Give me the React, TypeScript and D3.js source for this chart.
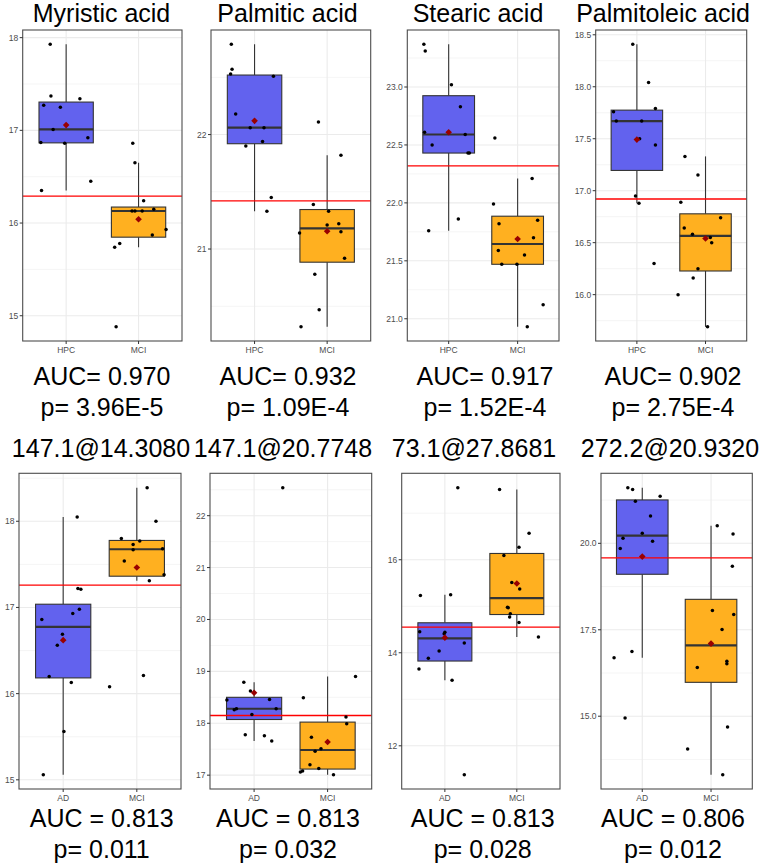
import React from 'react';
import * as d3 from 'd3';

// ---- data: each point is [horizontal jitter (category units), value] ----
const myristicHPC: [number, number][] = [[-0.22,17.93],[-0.21,17.37],[-0.31,17.27],[-0.08,17.25],[0.19,17.34],[-0.18,17.01],[0.30,16.92],[-0.35,16.87],[-0.02,16.86],[0.34,16.45],[-0.34,16.35]];
const myristicMCI: [number, number][] = [[-0.08,16.86],[-0.05,16.65],[0.07,16.24],[-0.09,16.13],[-0.05,16.13],[0.05,16.13],[0.21,16.15],[0.19,15.87],[0.38,15.93],[-0.33,15.74],[-0.26,15.78],[-0.31,14.88]];
const palmiticHPC: [number, number][] = [[-0.32,22.79],[-0.31,22.57],[-0.33,22.53],[0.26,22.51],[-0.26,22.18],[-0.06,22.06],[0.13,22.06],[0.11,21.94],[-0.12,21.90],[0.23,21.45],[0.17,21.33]];
const palmiticMCI: [number, number][] = [[-0.12,22.11],[0.19,21.82],[-0.19,21.39],[0.02,21.33],[0.00,21.21],[0.16,21.22],[0.19,21.15],[-0.38,21.14],[0.24,20.92],[-0.17,20.78],[-0.11,20.47],[-0.36,20.32]];
const stearicHPC: [number, number][] = [[-0.36,23.37],[-0.34,23.31],[0.04,23.02],[0.17,22.83],[-0.35,22.61],[0.24,22.59],[-0.24,22.50],[0.28,22.43],[0.30,22.43],[0.14,21.86],[-0.29,21.76]];
const stearicMCI: [number, number][] = [[-0.33,22.56],[0.21,22.21],[-0.35,21.99],[0.29,21.85],[-0.27,21.82],[0.23,21.70],[-0.28,21.59],[0.10,21.55],[-0.23,21.47],[-0.01,21.47],[0.37,21.12],[0.14,20.93]];
const palmitoleicHPC: [number, number][] = [[-0.06,18.41],[0.17,18.04],[0.27,17.79],[-0.34,17.76],[-0.30,17.67],[0.07,17.67],[0.04,17.50],[0.27,17.44],[-0.02,16.95],[0.03,16.88],[0.25,16.30]];
const palmitoleicMCI: [number, number][] = [[-0.30,17.33],[-0.11,17.15],[-0.36,16.89],[0.22,16.74],[-0.31,16.64],[-0.19,16.58],[0.07,16.55],[0.09,16.50],[-0.11,16.25],[-0.18,16.16],[-0.40,16.00],[0.03,15.69]];
const m147a_AD: [number, number][] = [[0.19,18.05],[0.20,17.22],[0.24,17.21],[0.22,16.98],[0.13,16.93],[-0.29,16.86],[-0.01,16.69],[-0.08,16.56],[-0.19,16.20],[0.11,16.13],[0.01,15.56],[-0.27,15.06]];
const m147a_MCI: [number, number][] = [[0.14,18.39],[0.26,18.00],[-0.21,17.80],[0.04,17.77],[-0.05,17.73],[-0.05,17.67],[0.35,17.68],[-0.17,17.54],[0.37,17.38],[0.17,17.31],[0.09,16.21],[-0.37,16.08]];
const m147b_AD: [number, number][] = [[0.39,22.54],[-0.14,18.79],[-0.05,18.62],[-0.37,18.45],[0.21,18.46],[-0.24,18.28],[-0.27,18.26],[0.30,18.28],[-0.03,18.17],[-0.12,17.78],[0.14,17.76],[0.24,17.66]];
const m147b_MCI: [number, number][] = [[-0.33,18.49],[0.38,18.90],[0.25,18.12],[0.26,17.99],[-0.22,17.73],[-0.09,17.51],[-0.17,17.46],[-0.24,17.20],[-0.12,17.13],[-0.37,17.06],[0.08,17.01],[-0.34,17.08]];
const m73_AD: [number, number][] = [[0.18,17.55],[-0.34,15.23],[0.08,15.25],[-0.35,14.45],[0.00,14.44],[-0.01,14.41],[0.27,14.21],[-0.08,14.04],[-0.23,13.88],[-0.36,13.65],[0.10,13.41],[0.27,11.38]];
const m73_MCI: [number, number][] = [[-0.24,17.51],[0.17,16.57],[0.03,16.27],[-0.18,16.09],[-0.07,15.51],[0.04,15.37],[-0.13,14.98],[-0.12,14.97],[-0.09,14.84],[-0.10,14.77],[0.03,14.65],[0.30,14.34]];
const m272_AD: [number, number][] = [[-0.21,21.61],[-0.14,21.56],[0.26,21.36],[-0.10,21.22],[0.12,20.79],[0.00,20.29],[-0.28,20.15],[0.15,20.06],[-0.32,19.85],[-0.41,16.69],[-0.15,16.87],[-0.25,14.95]];
const m272_MCI: [number, number][] = [[0.09,20.51],[0.32,20.27],[0.31,19.34],[0.02,18.06],[0.33,17.94],[0.16,17.51],[-0.20,16.41],[0.23,16.59],[0.23,16.52],[0.24,14.69],[-0.34,14.05],[0.17,13.31]];

const titles = ['Myristic acid', 'Palmitic acid', 'Stearic acid', 'Palmitoleic acid', '147.1@14.3080', '147.1@20.7748', '73.1@27.8681', '272.2@20.9320'];
const aucLabels = ['AUC= 0.970', 'AUC= 0.932', 'AUC= 0.917', 'AUC= 0.902', 'AUC = 0.813', 'AUC = 0.813', 'AUC = 0.813', 'AUC = 0.806'];
const pLabels = ['p= 3.96E-5', 'p= 1.09E-4', 'p= 1.52E-4', 'p= 2.75E-4', 'p= 0.011', 'p= 0.032', 'p= 0.028', 'p= 0.012'];
const groupsTop = ['HPC', 'MCI'];
const groupsBottom = ['AD', 'MCI'];
const cutoffs = [16.29, 21.42, 22.32, 16.92, 17.26, 18.15, 14.55, 19.58];
const majorTicks = [[15, 16, 17, 18], [21, 22], [21, 21.5, 22, 22.5, 23], [16, 16.5, 17, 17.5, 18, 18.5], [15, 16, 17, 18], [17, 18, 19, 20, 21, 22], [12, 14, 16], [15, 17.5, 20]];
const tickDecimals = [0, 0, 1, 1, 0, 0, 0, 1];
const panelSeries = [
  [myristicHPC, myristicMCI], [palmiticHPC, palmiticMCI], [stearicHPC, stearicMCI], [palmitoleicHPC, palmitoleicMCI],
  [m147a_AD, m147a_MCI], [m147b_AD, m147b_MCI], [m73_AD, m73_MCI], [m272_AD, m272_MCI],
];

// ---- layout (not data) ----
const rects = [
  { x0: 22.7, x1: 182, y0: 30, y1: 341 },
  { x0: 211, x1: 370.7, y0: 30, y1: 341 },
  { x0: 407.3, x1: 559, y0: 30, y1: 341 },
  { x0: 595.7, x1: 746.7, y0: 30, y1: 341 },
  { x0: 19, x1: 181, y0: 473.3, y1: 789 },
  { x0: 210, x1: 371.7, y0: 473.3, y1: 789 },
  { x0: 401.7, x1: 560, y0: 473.3, y1: 789 },
  { x0: 601, x1: 752.3, y0: 473.3, y1: 789 },
];
const titleX = [101.5, 287.5, 478, 663, 101, 283, 474, 670];
const aucX = [102, 288, 485, 673, 101.7, 288, 482.7, 673];
const rowText = [
  { title: 22, cat: 353, auc: 385, p: 416 },
  { title: 457, cat: 800.5, auc: 827, p: 858 },
];

const FONT = "'Liberation Sans', Arial, Helvetica, sans-serif";
const FILLS = ['#6262EE', '#FFB020'];

function boxStats(vals: number[]) {
  const s = [...vals].sort(d3.ascending);
  const q1 = d3.quantile(s, 0.25)!;
  const med = d3.quantile(s, 0.5)!;
  const q3 = d3.quantile(s, 0.75)!;
  const iqr = q3 - q1;
  const lo = d3.min(s.filter(v => v >= q1 - 1.5 * iqr))!;
  const hi = d3.max(s.filter(v => v <= q3 + 1.5 * iqr))!;
  return { q1, med, q3, lo, hi, mean: d3.mean(s)! };
}

function Panel({ i }: { i: number }) {
  const r = rects[i];
  const row = i < 4 ? 0 : 1;
  const groups = row === 0 ? groupsTop : groupsBottom;
  const series = panelSeries[i];
  const all = series.flatMap(s => s.map(p => p[1]));
  const [mn, mx] = d3.extent(all) as [number, number];
  const pad = (mx - mn) * 0.05;
  const y = d3.scaleLinear().domain([mn - pad, mx + pad]).range([r.y1, r.y0]);
  const x = d3.scaleLinear().domain([0.4, 2.6]).range([r.x0, r.x1]);
  const unit = x(1) - x(0);
  const majors = majorTicks[i];
  const step = majors.length > 1 ? majors[1] - majors[0] : 1;
  const minors: number[] = [];
  for (let v = majors[0] - step / 2; v <= mx + pad; v += step) {
    if (v >= mn - pad) minors.push(v);
  }
  const fmt = d3.format(`.${tickDecimals[i]}f`);
  const rt = rowText[row];
  return (
    <g>
      <rect x={r.x0} y={r.y0} width={r.x1 - r.x0} height={r.y1 - r.y0} fill="#fff" />
      {minors.map(v => (
        <line key={'mn' + v} x1={r.x0} x2={r.x1} y1={y(v)} y2={y(v)} stroke="#F2F2F2" strokeWidth={0.8} />
      ))}
      {majors.map(v => (
        <line key={'mj' + v} x1={r.x0} x2={r.x1} y1={y(v)} y2={y(v)} stroke="#EBEBEB" strokeWidth={1.1} />
      ))}
      {[1, 2].map(g => (
        <line key={'vg' + g} x1={x(g)} x2={x(g)} y1={r.y0} y2={r.y1} stroke="#EBEBEB" strokeWidth={1.1} />
      ))}
      {series.map((s, gi) => {
        const st = boxStats(s.map(p => p[1]));
        const cx = x(gi + 1);
        const hw = unit * 0.375;
        return (
          <g key={'box' + gi}>
            <line x1={cx} x2={cx} y1={y(st.q3)} y2={y(st.hi)} stroke="#333" strokeWidth={1.1} />
            <line x1={cx} x2={cx} y1={y(st.q1)} y2={y(st.lo)} stroke="#333" strokeWidth={1.1} />
            <rect x={cx - hw} y={y(st.q3)} width={2 * hw} height={y(st.q1) - y(st.q3)} fill={FILLS[gi]} stroke="#333" strokeWidth={1.1} />
            <line x1={cx - hw} x2={cx + hw} y1={y(st.med)} y2={y(st.med)} stroke="#333" strokeWidth={2.2} />
          </g>
        );
      })}
      <line x1={r.x0} x2={r.x1} y1={y(cutoffs[i])} y2={y(cutoffs[i])} stroke="#FF0000" strokeWidth={1.3} />
      {series.map((s, gi) =>
        s.map((p, pi) => (
          <circle key={`pt${gi}-${pi}`} cx={x(gi + 1) + p[0] * unit} cy={y(p[1])} r={1.75} fill="#000" />
        ))
      )}
      {series.map((s, gi) => {
        const st = boxStats(s.map(p => p[1]));
        const cx = x(gi + 1);
        const cy = y(st.mean);
        const d = 3.3;
        return <path key={'mean' + gi} d={`M${cx},${cy - d}L${cx + d},${cy}L${cx},${cy + d}L${cx - d},${cy}Z`} fill="#990000" />;
      })}
      <rect x={r.x0} y={r.y0} width={r.x1 - r.x0} height={r.y1 - r.y0} fill="none" stroke="#4D4D4D" strokeWidth={1.1} />
      {majors.map(v => (
        <g key={'yt' + v}>
          <line x1={r.x0 - 3} x2={r.x0} y1={y(v)} y2={y(v)} stroke="#333" strokeWidth={1} />
          <text x={r.x0 - 4.5} y={y(v)} dy="0.35em" textAnchor="end" fontSize={8.5} fill="#4D4D4D" fontFamily={FONT}>{fmt(v)}</text>
        </g>
      ))}
      {groups.map((g, gi) => (
        <g key={'xt' + g}>
          <line x1={x(gi + 1)} x2={x(gi + 1)} y1={r.y1} y2={r.y1 + 3} stroke="#333" strokeWidth={1} />
          <text x={x(gi + 1)} y={rt.cat} textAnchor="middle" fontSize={8.5} fill="#4D4D4D" fontFamily={FONT}>{g}</text>
        </g>
      ))}
      <text x={titleX[i]} y={rt.title} textAnchor="middle" fontSize={25} fill="#000" fontFamily={FONT}>{titles[i]}</text>
      <text x={aucX[i]} y={rt.auc} textAnchor="middle" fontSize={25} fill="#000" fontFamily={FONT}>{aucLabels[i]}</text>
      <text x={aucX[i]} y={rt.p} textAnchor="middle" fontSize={25} fill="#000" fontFamily={FONT}>{pLabels[i]}</text>
    </g>
  );
}

export default function App() {
  return (
    <svg width={770} height={867} viewBox="0 0 770 867" style={{ position: 'absolute', left: 0, top: 0, background: '#fff' }}>
      <rect x={0} y={0} width={770} height={867} fill="#fff" />
      {titles.map((_, i) => <Panel key={i} i={i} />)}
    </svg>
  );
}
